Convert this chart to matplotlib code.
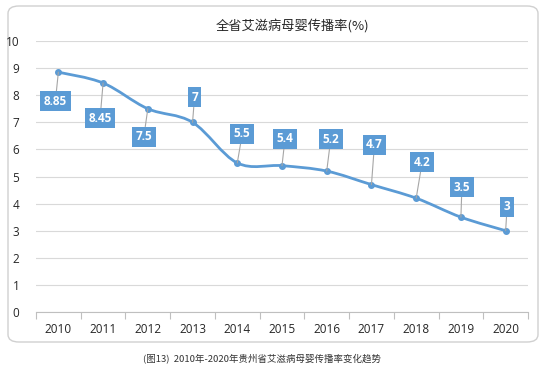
import matplotlib.pyplot as plt
import numpy as np
from matplotlib.path import Path
from matplotlib.patches import PathPatch, FancyBboxPatch

plt.rcParams['font.family'] = ['Noto Sans CJK SC', 'DejaVu Sans']

years = ['2010', '2011', '2012', '2013', '2014', '2015', '2016', '2017', '2018', '2019', '2020']
rates = [8.85, 8.45, 7.5, 7, 5.5, 5.4, 5.2, 4.7, 4.2, 3.5, 3]
value_labels = ['8.85', '8.45', '7.5', '7', '5.5', '5.4', '5.2', '4.7', '4.2', '3.5', '3']

title = '全省艾滋病母婴传播率(%)'
caption = '(图13)  2010年-2020年贵州省艾滋病母婴传播率变化趋势'

# label box offsets from each point, in pixels (x right, y up)
label_offsets = [(-3, -29), (-3, -35), (-4, -28), (2, 25), (5, 29), (3, 27),
                 (4, 32), (3, 40), (6, 36), (1, 30), (1.5, 24)]

blue = '#5B9BD5'

fig = plt.figure(figsize=(5.45, 3.71), dpi=100)
W, H = 545, 371

# outer rounded frame
frame = FancyBboxPatch((8 / W, (H - 342) / H), 530 / W, 336 / H,
                       boxstyle='round,pad=0,rounding_size=0.02',
                       transform=fig.transFigure, facecolor='white',
                       edgecolor='#D0D0D0', linewidth=1.0, zorder=-5)
fig.patches.append(frame)

ax = fig.add_axes([36 / W, (H - 312) / H, (528 - 36) / W, (312 - 41) / H])
ax.set_facecolor('none')
ax.set_zorder(2)

x = np.arange(len(years))
y = np.array(rates, dtype=float)

# smoothed line (Catmull-Rom style bezier through the data points)
verts = [(x[0], y[0])]
codes = [Path.MOVETO]
for i in range(len(x) - 1):
    p0 = np.array([x[max(i - 1, 0)], y[max(i - 1, 0)]])
    p1 = np.array([x[i], y[i]])
    p2 = np.array([x[i + 1], y[i + 1]])
    p3 = np.array([x[min(i + 2, len(x) - 1)], y[min(i + 2, len(x) - 1)]])
    c1 = p1 + (p2 - p0) / 6
    c2 = p2 - (p3 - p1) / 6
    verts += [tuple(c1), tuple(c2), tuple(p2)]
    codes += [Path.CURVE4] * 3
ax.add_patch(PathPatch(Path(verts, codes), facecolor='none', edgecolor=blue,
                       linewidth=2.0, capstyle='round', zorder=3))
ax.plot(x, y, linestyle='none', marker='o', markersize=4, color=blue, zorder=4)

for xi, yi, lab, (dx, dy) in zip(x, y, value_labels, label_offsets):
    ax.annotate(lab, xy=(xi, yi), xytext=(dx * 0.72, dy * 0.72),
                textcoords='offset points', ha='center', va='center',
                color='white', fontsize=8.5, fontweight='bold',
                family=['Open Sans', 'DejaVu Sans'],
                bbox=dict(boxstyle='square,pad=0.3', facecolor=blue, edgecolor='none'),
                arrowprops=dict(arrowstyle='-', color='#A6A6A6', linewidth=0.8,
                                shrinkA=0, shrinkB=0),
                zorder=5)

ax.set_xlim(-0.5, len(years) - 0.5)
ax.set_ylim(0, 10)
ax.set_yticks(range(0, 11))
ax.set_xticks(x)
ax.set_xticklabels(years)
ax.set_xticks(np.arange(-0.5, len(years)), minor=True)
ax.tick_params(axis='x', which='major', length=0, pad=8, labelsize=8.5, labelcolor='#262626')
ax.tick_params(axis='x', which='minor', length=5, color='#BFBFBF', width=0.8)
ax.tick_params(axis='y', length=0, pad=12, labelsize=8.5, labelcolor='#262626')
for lab in ax.get_xticklabels() + ax.get_yticklabels():
    lab.set_family(['Open Sans', 'DejaVu Sans'])
ax.grid(axis='y', color='#D9D9D9', linewidth=0.8)
ax.set_axisbelow(True)
for s in ['top', 'right', 'left']:
    ax.spines[s].set_visible(False)
ax.spines['bottom'].set_color('#BFBFBF')
ax.spines['bottom'].set_linewidth(0.8)

fig.text(292 / W, (H - 26) / H, title, ha='center', va='center', fontsize=9.5,
         color='#262626', fontweight='medium')
fig.text(262 / W, (H - 358) / H, caption, ha='center', va='center', fontsize=6.8,
         color='#333333')

fig.savefig('out.png', dpi=100)
